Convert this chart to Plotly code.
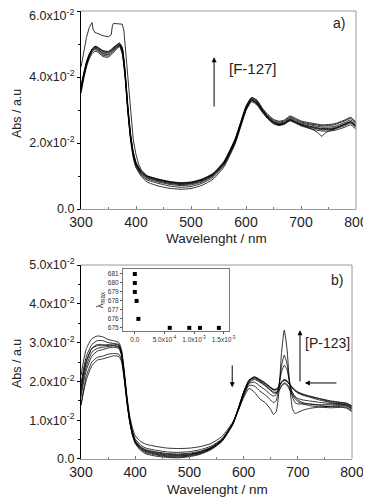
import plotly.graph_objects as go

# ---------------- Panel a) data (absorbance in units of 1e-2) ----------------
wl_a = [300, 305, 310, 315, 320, 325, 330, 340, 350, 355, 360, 365, 370, 375, 380, 385, 390, 395, 400,
        410, 420, 440, 460, 480, 500, 520, 540, 560, 580, 590, 600, 610, 620, 630, 640, 650, 660, 670,
        680, 690, 700, 720, 740, 760, 780, 790, 800]

a1 = [3.60, 4.05, 4.40, 4.65, 4.80, 4.88, 4.85, 4.72, 4.70, 4.78, 4.85, 4.92, 4.97, 4.80, 4.10, 3.05, 2.20, 1.65, 1.35,
      1.08, 0.95, 0.85, 0.78, 0.74, 0.76, 0.85, 1.02, 1.38, 2.05, 2.55, 3.05, 3.32, 3.22, 2.98, 2.78, 2.64, 2.58, 2.62,
      2.73, 2.66, 2.58, 2.50, 2.44, 2.46, 2.58, 2.66, 2.52]
a2 = [3.70, 4.10, 4.45, 4.68, 4.82, 4.90, 4.88, 4.76, 4.74, 4.80, 4.88, 4.95, 5.00, 4.85, 4.15, 3.10, 2.25, 1.70, 1.38,
      1.10, 0.97, 0.87, 0.80, 0.76, 0.78, 0.87, 1.04, 1.40, 2.08, 2.58, 3.08, 3.35, 3.25, 3.00, 2.80, 2.66, 2.60, 2.64,
      2.76, 2.69, 2.61, 2.54, 2.48, 2.50, 2.62, 2.70, 2.56]
a3 = [3.55, 4.00, 4.35, 4.60, 4.75, 4.83, 4.80, 4.66, 4.64, 4.72, 4.80, 4.88, 4.95, 4.75, 4.05, 3.00, 2.15, 1.60, 1.30,
      1.02, 0.88, 0.78, 0.70, 0.66, 0.68, 0.78, 0.96, 1.33, 2.00, 2.50, 3.00, 3.28, 3.18, 2.95, 2.75, 2.60, 2.55, 2.60,
      2.70, 2.63, 2.55, 2.46, 2.40, 2.42, 2.53, 2.60, 2.48]
a4 = [3.65, 4.08, 4.42, 4.66, 4.83, 4.92, 4.90, 4.78, 4.76, 4.82, 4.90, 4.96, 5.02, 4.88, 4.20, 3.15, 2.28, 1.72, 1.40,
      1.12, 0.99, 0.89, 0.82, 0.78, 0.80, 0.89, 1.06, 1.42, 2.10, 2.60, 3.10, 3.37, 3.28, 3.03, 2.83, 2.69, 2.63, 2.67,
      2.79, 2.72, 2.64, 2.57, 2.52, 2.55, 2.67, 2.75, 2.60]
a5 = [3.50, 3.95, 4.30, 4.55, 4.70, 4.78, 4.76, 4.62, 4.60, 4.68, 4.76, 4.85, 4.92, 4.70, 4.00, 2.95, 2.10, 1.55, 1.25,
      0.98, 0.82, 0.70, 0.63, 0.60, 0.62, 0.72, 0.90, 1.28, 1.96, 2.47, 2.98, 3.25, 3.15, 2.92, 2.72, 2.58, 2.53, 2.57,
      2.67, 2.60, 2.52, 2.42, 2.36, 2.38, 2.48, 2.55, 2.42]
a6 = [3.75, 4.12, 4.47, 4.70, 4.85, 4.93, 4.91, 4.80, 4.78, 4.84, 4.91, 4.98, 5.03, 4.90, 4.22, 3.18, 2.30, 1.75, 1.42,
      1.14, 1.01, 0.91, 0.84, 0.80, 0.82, 0.91, 1.08, 1.45, 2.12, 2.62, 3.12, 3.38, 3.30, 3.05, 2.86, 2.72, 2.66, 2.70,
      2.82, 2.75, 2.67, 2.60, 2.55, 2.58, 2.70, 2.78, 2.63]
a7 = [3.62, 4.03, 4.38, 4.62, 4.78, 4.86, 4.83, 4.70, 4.68, 4.75, 4.83, 4.90, 4.96, 4.78, 4.08, 3.03, 2.18, 1.63, 1.33,
      1.05, 0.92, 0.82, 0.75, 0.71, 0.73, 0.82, 1.00, 1.36, 2.03, 2.53, 3.03, 3.30, 3.20, 2.96, 2.76, 2.62, 2.56, 2.60,
      2.71, 2.64, 2.56, 2.48, 2.42, 2.44, 2.56, 2.63, 2.50]

wl_a_special = [300, 305, 310, 315, 318, 320, 322, 325, 330, 340, 350, 355, 357, 359, 362, 370, 375, 378, 380, 385,
                390, 395, 400, 405, 410, 420, 440, 460, 480, 500, 520, 540, 560, 580, 590, 600, 610, 620, 630, 640,
                650, 660, 670, 680, 690, 700, 720, 730, 738, 745, 760, 780, 790, 800]
a_special = [4.30, 4.75, 5.20, 5.50, 5.62, 5.65, 5.45, 5.35, 5.32, 5.25, 5.22, 5.28, 5.55, 5.62, 5.62, 5.62, 5.60, 5.40,
             5.00, 3.90, 2.90, 2.10, 1.65, 1.35, 1.18, 1.00, 0.90, 0.82, 0.78, 0.80, 0.88, 1.05, 1.40, 2.05, 2.55,
             3.05, 3.32, 3.22, 2.98, 2.78, 2.62, 2.55, 2.58, 2.70, 2.62, 2.55, 2.42, 2.32, 2.20, 2.32, 2.42, 2.58,
             2.64, 2.50]

# ---------------- Panel b) data (absorbance in units of 1e-2) ----------------
wl_b = [300, 305, 310, 320, 330, 340, 350, 360, 370, 375, 380, 385, 390, 395, 400, 410, 420, 440, 460, 480, 500,
        520, 540, 560, 580, 590, 600, 610, 620, 630, 640, 650, 655, 660, 665, 670, 675, 680, 685, 690, 695, 700,
        710, 720, 740, 760, 780, 790, 800]

b1 = [2.15, 2.55, 2.85, 3.10, 3.17, 3.15, 3.08, 3.05, 3.00, 2.80, 2.25, 1.60, 1.10, 0.80, 0.60, 0.45, 0.38, 0.32, 0.28,
      0.27, 0.28, 0.32, 0.40, 0.58, 0.95, 1.25, 1.58, 1.82, 1.72, 1.55, 1.45, 1.28, 1.15, 1.22, 1.70, 2.75, 3.32, 2.85,
      1.90, 1.30, 1.17, 1.20, 1.26, 1.30, 1.34, 1.36, 1.38, 1.36, 1.28]
b2 = [1.95, 2.35, 2.65, 2.95, 3.05, 3.05, 3.00, 2.98, 2.95, 2.75, 2.20, 1.55, 1.05, 0.72, 0.52, 0.36, 0.28, 0.22, 0.18,
      0.17, 0.19, 0.24, 0.33, 0.52, 0.92, 1.25, 1.62, 1.90, 1.88, 1.75, 1.65, 1.52, 1.45, 1.50, 1.85, 2.40, 2.68, 2.45,
      1.95, 1.60, 1.45, 1.42, 1.42, 1.42, 1.40, 1.40, 1.40, 1.38, 1.30]
b3 = [1.80, 2.20, 2.50, 2.85, 2.95, 2.95, 2.92, 2.92, 2.90, 2.70, 2.15, 1.50, 1.00, 0.68, 0.48, 0.32, 0.24, 0.18, 0.14,
      0.13, 0.15, 0.20, 0.30, 0.50, 0.90, 1.25, 1.65, 1.95, 1.98, 1.88, 1.78, 1.66, 1.62, 1.66, 1.90, 2.25, 2.42, 2.30,
      1.98, 1.72, 1.60, 1.56, 1.52, 1.50, 1.46, 1.43, 1.42, 1.40, 1.32]
b4 = [1.70, 2.10, 2.40, 2.75, 2.85, 2.88, 2.90, 2.92, 2.88, 2.68, 2.12, 1.48, 0.98, 0.65, 0.45, 0.28, 0.20, 0.14, 0.10,
      0.09, 0.11, 0.17, 0.28, 0.48, 0.92, 1.30, 1.72, 2.02, 2.10, 2.02, 1.93, 1.82, 1.78, 1.78, 1.85, 1.98, 2.05, 2.02,
      1.92, 1.82, 1.75, 1.70, 1.64, 1.60, 1.52, 1.46, 1.42, 1.40, 1.33]
b5 = [1.40, 1.80, 2.15, 2.50, 2.62, 2.65, 2.70, 2.72, 2.70, 2.55, 2.05, 1.45, 0.95, 0.62, 0.42, 0.25, 0.16, 0.10, 0.06,
      0.05, 0.08, 0.14, 0.26, 0.46, 0.90, 1.28, 1.70, 2.00, 2.08, 2.00, 1.90, 1.78, 1.73, 1.72, 1.78, 1.90, 1.96, 1.93,
      1.82, 1.70, 1.60, 1.52, 1.45, 1.42, 1.38, 1.35, 1.35, 1.33, 1.24]
b6 = [1.60, 2.00, 2.30, 2.65, 2.78, 2.82, 2.86, 2.88, 2.85, 2.65, 2.10, 1.46, 0.96, 0.64, 0.44, 0.27, 0.19, 0.12, 0.08,
      0.07, 0.10, 0.16, 0.27, 0.47, 0.91, 1.30, 1.72, 2.04, 2.12, 2.05, 1.96, 1.85, 1.80, 1.80, 1.86, 1.97, 2.02, 2.00,
      1.92, 1.84, 1.77, 1.72, 1.66, 1.62, 1.55, 1.48, 1.45, 1.43, 1.36]
b7 = [1.38, 1.75, 2.05, 2.40, 2.55, 2.58, 2.62, 2.66, 2.64, 2.50, 2.02, 1.42, 0.94, 0.60, 0.40, 0.22, 0.13, 0.07, 0.04,
      0.03, 0.06, 0.12, 0.24, 0.45, 0.88, 1.26, 1.68, 1.97, 2.05, 1.98, 1.88, 1.76, 1.70, 1.70, 1.75, 1.87, 1.94, 1.90,
      1.78, 1.65, 1.55, 1.48, 1.42, 1.38, 1.34, 1.32, 1.33, 1.31, 1.22]
b8 = [1.85, 2.25, 2.55, 2.85, 2.92, 2.92, 2.95, 2.96, 2.93, 2.72, 2.16, 1.50, 1.00, 0.66, 0.46, 0.30, 0.22, 0.16, 0.12,
      0.11, 0.13, 0.18, 0.29, 0.49, 0.92, 1.30, 1.72, 2.03, 2.11, 2.04, 1.95, 1.84, 1.79, 1.79, 1.86, 1.99, 2.04, 2.01,
      1.93, 1.85, 1.78, 1.73, 1.67, 1.63, 1.56, 1.50, 1.46, 1.44, 1.37]

# ---------------- Inset data ----------------
inset_conc = [0.0, 0.0, 0.0, 3e-5, 6e-5, 5.9e-4, 9.2e-4, 1.1e-3, 1.42e-3]
inset_lmax = [681, 680, 679, 678, 676, 675, 675, 675, 675]

# tick labels (the top label of panel a is drawn separately so it is not clipped at the page edge)
y_ticks_a = [0.0, 0.02, 0.04, 0.06]
y_text_a = ["0.0", "2.0x10<sup>-2</sup>", "4.0x10<sup>-2</sup>", ""]
y_top_label_a = "6.0x10<sup>-2</sup>"
y_ticks_b = [0.0, 0.01, 0.02, 0.03, 0.04, 0.05]
y_text_b = ["0.0", "1.0x10<sup>-2</sup>", "2.0x10<sup>-2</sup>", "3.0x10<sup>-2</sup>",
            "4.0x10<sup>-2</sup>", "5.0x10<sup>-2</sup>"]
x_ticks = [300, 400, 500, 600, 700, 800]
inset_xticks = [0.0, 5e-4, 1e-3, 1.5e-3]
inset_xtext = ["0.0", "5.0x10<sup>-4</sup>", "1.0x10<sup>-3</sup>", "1.5x10<sup>-3</sup>"]
inset_yticks = [675, 676, 677, 678, 679, 680, 681]

SCALE = 1e-2
FONT = "Liberation Sans, Arial, sans-serif"
LINE = dict(color="black", width=0.8, shape="spline", smoothing=0.5)

fig = go.Figure()

for series in [a1, a2, a3, a4, a5, a6, a7]:
    fig.add_trace(go.Scatter(x=wl_a, y=[v * SCALE for v in series], mode="lines", line=LINE,
                             xaxis="x", yaxis="y", showlegend=False))
fig.add_trace(go.Scatter(x=wl_a_special, y=[v * SCALE for v in a_special], mode="lines",
                         line=dict(color="black", width=0.8, shape="linear"),
                         xaxis="x", yaxis="y", showlegend=False))

for series in [b1, b2, b3, b4, b5, b6, b7, b8]:
    fig.add_trace(go.Scatter(x=wl_b, y=[v * SCALE for v in series], mode="lines", line=LINE,
                             xaxis="x2", yaxis="y2", showlegend=False))

fig.add_trace(go.Scatter(x=inset_conc, y=inset_lmax, mode="markers",
                         marker=dict(symbol="square", size=4, color="black"),
                         xaxis="x3", yaxis="y3", showlegend=False))

gray = "#9a9a9a"
xcommon = dict(range=[300, 800], tickvals=x_ticks, ticks="inside", ticklen=3, tickcolor="#777",
               showline=True, linecolor=gray, linewidth=1, showgrid=False, zeroline=False, automargin=False,
               tickfont=dict(family=FONT, size=14, color="#222"),
               minor=dict(dtick=50, ticks="inside", ticklen=2, tickcolor="#777", showgrid=False))
ycommon = dict(ticks="outside", ticklen=3, tickcolor="black", showline=True, linecolor="black",
               linewidth=1, showgrid=False, zeroline=False, automargin=False,
               tickfont=dict(family=FONT, size=12.5, color="#222"))

# The page places the figure 8 px in from the top-left corner, so margins are reduced by 8 px
fig.update_layout(
    width=363, height=492,
    margin=dict(l=73, r=15, t=3, b=41, autoexpand=False),
    paper_bgcolor="white", plot_bgcolor="rgba(0,0,0,0)",
    xaxis=dict(domain=[0, 1], anchor="y", **xcommon),
    yaxis=dict(domain=[0.558, 1], anchor="x", range=[0, 0.06], tickvals=y_ticks_a, ticktext=y_text_a,
               minor=dict(dtick=0.01, ticks="outside", ticklen=2, tickcolor="black", showgrid=False),
               **ycommon),
    xaxis2=dict(domain=[0, 0.9855], anchor="y2", **xcommon),
    yaxis2=dict(domain=[0, 0.433], anchor="x2", range=[0, 0.05], tickvals=y_ticks_b, ticktext=y_text_b,
                minor=dict(dtick=0.005, ticks="outside", ticklen=2, tickcolor="black", showgrid=False),
                **ycommon),
    xaxis3=dict(domain=[0.1527, 0.538], anchor="y3", range=[-2.0e-4, 1.59e-3], tickvals=inset_xticks,
                ticktext=inset_xtext, ticks="outside", ticklen=2, tickcolor="#555", showline=True,
                linecolor="#777", mirror=True, showgrid=False, zeroline=False, automargin=False,
                tickfont=dict(family=FONT, size=6.5, color="#333")),
    yaxis3=dict(domain=[0.2857, 0.424], anchor="x3", range=[674.65, 681.55], tickvals=inset_yticks,
                ticks="outside", ticklen=2, tickcolor="#555", showline=True, linecolor="#777", mirror=True,
                showgrid=False, zeroline=False, automargin=False,
                tickfont=dict(family=FONT, size=6.5, color="#333"),
                title=dict(text="λ<sub>max</sub>", font=dict(family=FONT, size=9, color="#333"), standoff=2)),
)

# gray top/right borders of the main panels
for xr, yr in [("x", "y"), ("x2", "y2")]:
    fig.add_shape(type="line", xref=f"{xr} domain", yref=f"{yr} domain", x0=0, x1=1, y0=1, y1=1,
                  line=dict(color=gray, width=1))
    fig.add_shape(type="line", xref=f"{xr} domain", yref=f"{yr} domain", x0=1, x1=1, y0=0, y1=1,
                  line=dict(color=gray, width=1))

txt = dict(family=FONT, color="#222")
C = dict(xref="paper", yref="paper", showarrow=False, xanchor="center", yanchor="middle")
annos = [
    dict(text="Wavelenght / nm", x=0.491, y=0.4933, font=dict(size=13.5, **txt), **C),
    dict(text="Wavelenght / nm", x=0.498, y=-0.067, font=dict(size=13.5, **txt), **C),
    dict(text="Abs / a.u", x=-0.233, y=0.772, textangle=-90, font=dict(size=12.5, **txt), **C),
    dict(text="Abs / a.u", x=-0.233, y=0.214, textangle=-90, font=dict(size=12.5, **txt), **C),
    dict(text="a)", x=0.938, y=0.973, font=dict(size=14, **txt), **C),
    dict(text="b)", x=0.931, y=0.3996, font=dict(size=14, **txt), **C),
    dict(text="[F-127]", x=(253 - 81) / 275, y=(459 - 68) / 448, font=dict(size=15, **txt), **C),
    dict(text="[P-123]", x=(327 - 81) / 275, y=(459 - 343) / 448, font=dict(size=14, **txt), **C),
    # top y tick label of panel a, nudged down so it stays on the page
    dict(text=y_top_label_a, x=0, y=1, xref="x domain", yref="y domain", showarrow=False,
         xanchor="right", yanchor="middle", xshift=-5, yshift=-4, font=dict(size=12.5, **txt)),
    # arrows
    dict(text="", x=542, y=0.046, ax=542, ay=0.0306, xref="x", yref="y", axref="x", ayref="y",
         showarrow=True, arrowhead=2, arrowsize=1, arrowwidth=1, arrowcolor="black"),
    dict(text="", x=579, y=0.0185, ax=579, ay=0.0245, xref="x2", yref="y2", axref="x2", ayref="y2",
         showarrow=True, arrowhead=2, arrowsize=1, arrowwidth=1, arrowcolor="black"),
    dict(text="", x=704, y=0.0332, ax=704, ay=0.0196, xref="x2", yref="y2", axref="x2", ayref="y2",
         showarrow=True, arrowhead=2, arrowsize=1, arrowwidth=1, arrowcolor="black"),
    dict(text="", x=713, y=0.0196, ax=774, ay=0.0196, xref="x2", yref="y2", axref="x2", ayref="y2",
         showarrow=True, arrowhead=2, arrowsize=1, arrowwidth=1, arrowcolor="black"),
]
fig.update_layout(annotations=annos)

fig.write_html("out.html")
